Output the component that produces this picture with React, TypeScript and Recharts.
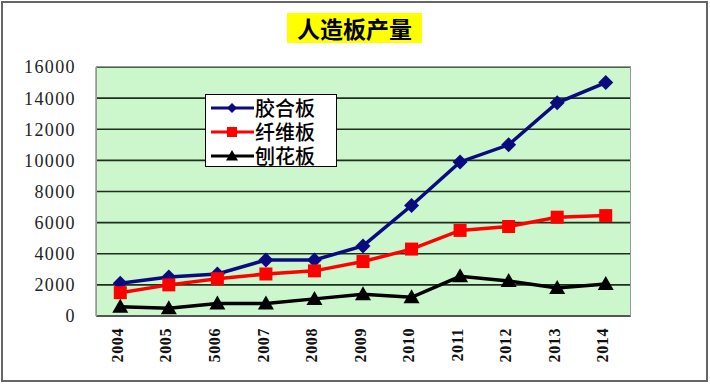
import { LineChart, Line, XAxis, YAxis, CartesianGrid, Legend } from "recharts";

const years = ["2004", "2005", "5006", "2007", "2008", "2009", "2010", "2011", "2012", "2013", "2014"];
const plywood = [2100, 2500, 2700, 3600, 3600, 4500, 7100, 9900, 11000, 13700, 15000];
const fiberboard = [1500, 2000, 2400, 2700, 2900, 3500, 4300, 5500, 5750, 6350, 6450];
const particleboard = [600, 500, 800, 800, 1100, 1400, 1200, 2550, 2250, 1800, 2050];
const yTicks = [0, 2000, 4000, 6000, 8000, 10000, 12000, 14000, 16000];

const seriesNames = ["胶合板", "纤维板", "刨花板"];
const seriesColors = ["#0b0b80", "#ff0000", "#000000"];

const data = years.map((year, i) => ({
    year,
    plywood: plywood[i],
    fiberboard: fiberboard[i],
    particleboard: particleboard[i]
}));

const cjk = '"Noto Sans CJK SC", "Noto Sans", sans-serif';
const serif = '"Liberation Serif", "DejaVu Serif", serif';

const Diamond = ({ cx, cy, fill, s = 7.5 }: any) => (
    <path d={`M${cx},${cy - s}L${cx + s},${cy}L${cx},${cy + s}L${cx - s},${cy}Z`} fill={fill} />
);
const Square = ({ cx, cy, fill, s = 6.5 }: any) => (
    <rect x={cx - s} y={cy - s} width={s * 2} height={s * 2} fill={fill} />
);
const Triangle = ({ cx, cy, fill, s = 8 }: any) => (
    <path d={`M${cx},${cy - s}L${cx + s},${cy + s * 0.75}L${cx - s},${cy + s * 0.75}Z`} fill={fill} />
);

const markers = [Diamond, Square, Triangle];
const legendSizes = [5, 5, 6];

const makeDot = (idx: number) => (props: any) => {
    const M = markers[idx];
    return <M key={`d${idx}-${props.index}`} cx={props.cx} cy={props.cy} fill={seriesColors[idx]} />;
};

const XTick = ({ x, payload }: any) => (
    <text x={x - 3} y={328} transform={`rotate(-90, ${x - 3}, 328)`} textAnchor="end" dy="0.35em"
        fontFamily={serif} fontWeight="bold" fontSize={16} letterSpacing={0.6} fill="#111">
        {payload.value}
    </text>
);

const LegendBox = () => (
    <div style={{
        position: "absolute", left: 205, top: 94, width: 132, height: 73,
        background: "#fff", border: "1px solid #000", boxSizing: "border-box", padding: "1px 0 0 4px"
    }}>
        {seriesNames.map((name, i) => {
            const M = markers[i];
            return (
                <div key={name} style={{ display: "flex", alignItems: "center", height: 24 }}>
                    <svg width={44} height={20} style={{ flex: "none" }}>
                        <line x1={1} y1={10} x2={44} y2={10} stroke={seriesColors[i]} strokeWidth={3} />
                        <M cx={22} cy={10} fill={seriesColors[i]} s={legendSizes[i]} />
                    </svg>
                    <span style={{ fontFamily: cjk, fontWeight: 500, fontSize: 20, color: "#000", lineHeight: "22px", marginLeft: 1 }}>{name}</span>
                </div>
            );
        })}
    </div>
);

const App = () => (
    <div style={{ position: "absolute", left: 0, top: 0, width: 710, height: 386, background: "#fff" }}>
        <div style={{
            position: "absolute", left: 1, top: 1, width: 707, height: 381,
            border: "2px solid #666", boxSizing: "border-box"
        }} />
        <div style={{
            position: "absolute", left: 287, top: 13, width: 135, height: 30, background: "#ffff00",
            fontFamily: cjk, fontWeight: "bold", fontSize: 23, lineHeight: "30px", textAlign: "center", color: "#000"
        }}>人造板产量</div>
        <LineChart width={710} height={386} data={data} margin={{ top: 67, right: 80, bottom: 0, left: 0 }}>
            <CartesianGrid vertical={false} fill="#ccf6cc" stroke="#1f2f1f" strokeWidth={1.6} />
            <XAxis dataKey="year" scale="band" height={70} tick={<XTick />} tickLine={false}
                axisLine={{ stroke: "#555", strokeWidth: 1.5 }} interval={0} />
            <YAxis width={96} domain={[0, 16000]} ticks={yTicks} tickLine={false} tickSize={0} tickMargin={20}
                axisLine={{ stroke: "#999", strokeWidth: 1.5 }}
                tick={{ fontFamily: serif, fontSize: 18, letterSpacing: 1.4, fill: "#222" }} />
            <Legend content={() => null} />
            <Line dataKey="plywood" name={seriesNames[0]} stroke={seriesColors[0]} strokeWidth={3.5}
                dot={makeDot(0)} isAnimationActive={false} />
            <Line dataKey="fiberboard" name={seriesNames[1]} stroke={seriesColors[1]} strokeWidth={3.5}
                dot={makeDot(1)} isAnimationActive={false} />
            <Line dataKey="particleboard" name={seriesNames[2]} stroke={seriesColors[2]} strokeWidth={3.5}
                dot={makeDot(2)} isAnimationActive={false} />
        </LineChart>
        <div style={{
            position: "absolute", left: 96, top: 66, width: 535, height: 251,
            border: "1.5px solid #999", borderBottomColor: "#555", boxSizing: "border-box", pointerEvents: "none"
        }} />
        <LegendBox />
    </div>
);

export default App;
